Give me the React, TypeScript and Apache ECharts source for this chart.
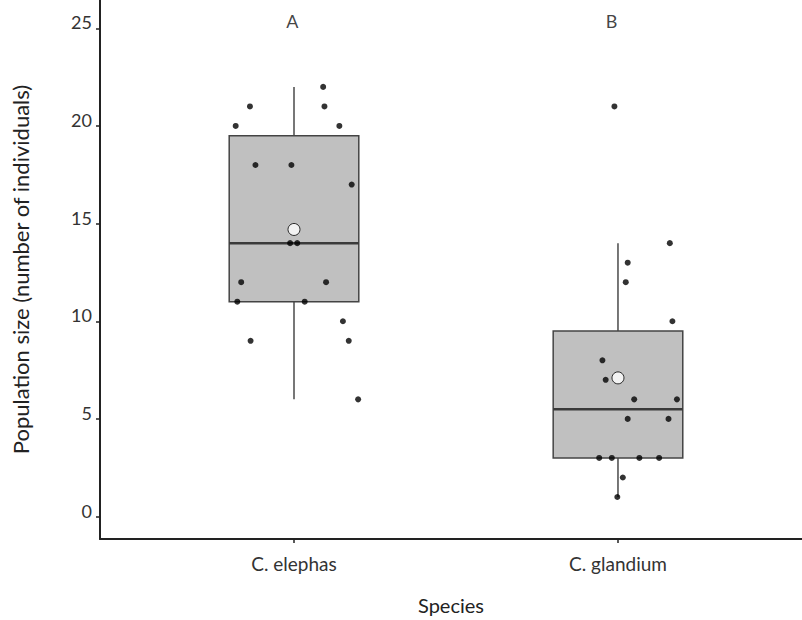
import React, { useEffect, useRef } from "react";
import * as echarts from "echarts";

const species = ["C. elephas", "C. glandium"];
const speciesPos = [1, 2];
// [position, min, Q1, median, Q3, max]
const boxStats = [
  [1, 6, 11, 14, 19.5, 22],
  [2, 1, 3, 5.5, 9.5, 14],
];
const means = [
  [1, 14.7],
  [2, 7.1],
];
const elephasPoints = [
  [1.09, 22], [0.864, 21], [1.094, 21], [0.82, 20], [1.14, 20],
  [0.881, 18], [0.992, 18], [1.178, 17], [0.988, 14], [1.01, 14],
  [0.837, 12], [1.099, 12], [0.825, 11], [1.033, 11], [1.151, 10],
  [0.866, 9], [1.169, 9], [1.198, 6],
];
const glandiumPoints = [
  [1.989, 21], [2.16, 14], [2.03, 13], [2.024, 12], [2.168, 10],
  [1.952, 8], [1.962, 7], [2.05, 6], [2.182, 6], [2.03, 5],
  [2.156, 5], [1.942, 3], [1.981, 3], [2.066, 3], [2.127, 3],
  [2.015, 2], [1.998, 1],
];
const letters = [
  [0.995, 25.35, "A"],
  [1.98, 25.35, "B"],
];
const yTicks = [0, 5, 10, 15, 20, 25];

const FONT = "Lato, 'Open Sans', sans-serif";

export default function App() {
  const ref = useRef<HTMLDivElement>(null);
  useEffect(() => {
    if (!ref.current) return;
    const chart = echarts.init(ref.current, null, { renderer: "svg" });
    const boxWidth = 0.4;
    chart.setOption({
      animation: false,
      backgroundColor: "#ffffff",
      textStyle: { fontFamily: FONT },
      grid: { left: 100, right: 0, top: 0, bottom: 81, containLabel: false },
      xAxis: {
        type: "value",
        min: 0.4012,
        max: 2.568,
        name: "Species",
        nameLocation: "middle",
        nameGap: 56,
        nameTextStyle: { fontSize: 20, color: "#222", fontFamily: FONT },
        axisLine: { show: true, onZero: false, lineStyle: { color: "#222", width: 2 } },
        axisTick: { show: true, customValues: speciesPos, length: 4, lineStyle: { color: "#222", width: 1.5 } },
        axisLabel: {
          show: true,
          customValues: speciesPos,
          margin: 15,
          fontSize: 19,
          color: "#333",
          fontFamily: FONT,
          formatter: (v: number) => species[speciesPos.indexOf(Math.round(v))] ?? "",
        },
        splitLine: { show: false },
      },
      yAxis: {
        type: "value",
        min: -1.15,
        max: 26.45,
        name: "Population size (number of individuals)",
        nameLocation: "middle",
        nameGap: 69,
        nameRotate: 90,
        nameTextStyle: { fontSize: 22, color: "#222", fontFamily: FONT },
        axisLine: { show: true, onZero: false, lineStyle: { color: "#222", width: 2 } },
        axisTick: { show: true, customValues: yTicks, length: 4, lineStyle: { color: "#222", width: 1.5 } },
        axisLabel: {
          show: true,
          customValues: yTicks,
          margin: 8,
          fontSize: 18,
          color: "#333",
          fontFamily: FONT,
          verticalAlign: "bottom",
          lineHeight: 12,
        },
        splitLine: { show: false },
      },
      series: [
        {
          type: "custom",
          data: boxStats,
          encode: { x: 0, y: [1, 2, 3, 4, 5] },
          z: 1,
          renderItem: (params: any, api: any) => {
            const x = api.value(0);
            const lo = api.coord([x, api.value(1)]);
            const q1 = api.coord([x, api.value(2)]);
            const med = api.coord([x, api.value(3)]);
            const q3 = api.coord([x, api.value(4)]);
            const hi = api.coord([x, api.value(5)]);
            const hw = api.size([boxWidth, 0])[0] / 2;
            return {
              type: "group",
              children: [
                { type: "line", shape: { x1: hi[0], y1: hi[1], x2: q3[0], y2: q3[1] }, style: { stroke: "#555", lineWidth: 1.6 } },
                { type: "line", shape: { x1: lo[0], y1: lo[1], x2: q1[0], y2: q1[1] }, style: { stroke: "#555", lineWidth: 1.6 } },
                {
                  type: "rect",
                  shape: { x: q3[0] - hw, y: q3[1], width: hw * 2, height: q1[1] - q3[1] },
                  style: { fill: "#c0c0c0", stroke: "#444", lineWidth: 1.5 },
                },
                { type: "line", shape: { x1: med[0] - hw, y1: med[1], x2: med[0] + hw, y2: med[1] }, style: { stroke: "#3a3a3a", lineWidth: 2.5 } },
              ],
            };
          },
        },
        {
          type: "scatter",
          data: elephasPoints,
          symbolSize: 6,
          itemStyle: { color: "#000" },
          z: 3,
        },
        {
          type: "scatter",
          data: glandiumPoints,
          symbolSize: 6,
          itemStyle: { color: "#000" },
          z: 3,
        },
        {
          type: "scatter",
          data: means,
          symbolSize: 12,
          itemStyle: { color: "#fff", borderColor: "#000", borderWidth: 1 },
          z: 4,
        },
        {
          type: "scatter",
          data: letters,
          symbolSize: 0,
          z: 5,
          label: {
            show: true,
            position: "inside",
            formatter: (p: any) => p.value[2],
            fontSize: 18,
            color: "#111",
            fontFamily: FONT,
          },
        },
      ],
    });
    return () => chart.dispose();
  }, []);
  return <div ref={ref} style={{ position: "fixed", left: 0, top: 0, width: 802, height: 620 }} />;
}
